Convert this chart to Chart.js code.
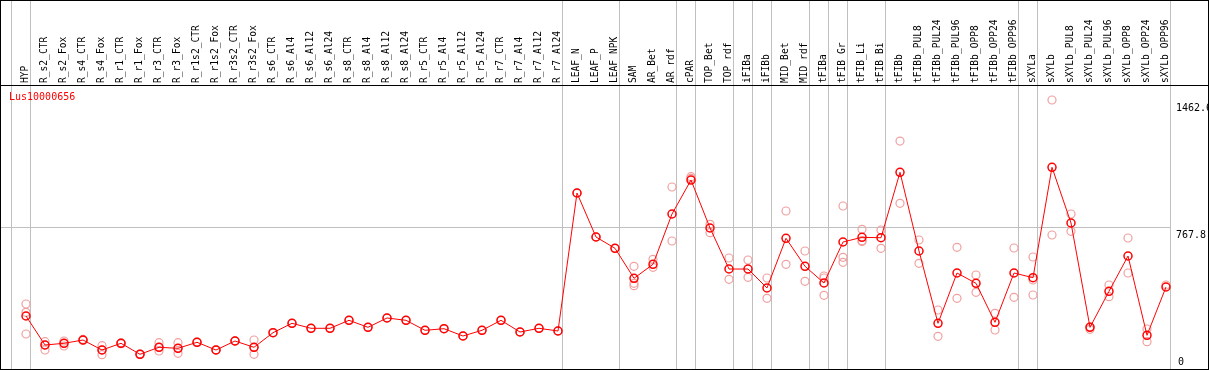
<!DOCTYPE html>
<html>
<head>
<meta charset="utf-8">
<script src="https://cdn.jsdelivr.net/npm/chart.js@4/dist/chart.umd.min.js"></script>
<style>
html,body{margin:0;padding:0;background:#fff;}
#c{display:block;}
</style>
</head>
<body>
<canvas id="c" width="1209" height="370"></canvas>
<script>
const categories = ["HYP","R_s2_CTR","R_s2_Fox","R_s4_CTR","R_s4_Fox","R_r1_CTR","R_r1_Fox","R_r3_CTR","R_r3_Fox","R_r1s2_CTR","R_r1s2_Fox","R_r3s2_CTR","R_r3s2_Fox","R_s6_CTR","R_s6_Al4","R_s6_Al12","R_s6_Al24","R_s8_CTR","R_s8_Al4","R_s8_Al12","R_s8_Al24","R_r5_CTR","R_r5_Al4","R_r5_Al12","R_r5_Al24","R_r7_CTR","R_r7_Al4","R_r7_Al12","R_r7_Al24","LEAF_N","LEAF_P","LEAF_NPK","SAM","AR_Bet","AR_rdf","cPAR","TOP_Bet","TOP_rdf","iFIBa","iFIBb","MID_Bet","MID_rdf","tFIBa","tFIB_Gr","tFIB_Li","tFIB_Bi","tFIBb","tFIBb_PUL8","tFIBb_PUL24","tFIBb_PUL96","tFIBb_OPP8","tFIBb_OPP24","tFIBb_OPP96","sXYLa","sXYLb","sXYLb_PUL8","sXYLb_PUL24","sXYLb_PUL96","sXYLb_OPP8","sXYLb_OPP24","sXYLb_OPP96"];

const meanValues = [283.8,125.5,134.8,152.8,98.2,134.8,74.8,113.0,107.5,140.2,98.2,147.3,113.0,192.6,243.9,216.6,216.6,260.3,222.1,272.9,260.3,205.7,214.5,174.6,205.7,260.3,196.5,216.6,201.9,955.0,714.9,653.2,489.5,565.9,840.4,1025.9,764.0,540.2,540.2,436.6,707.8,555.0,463.8,687.6,713.2,711.0,1068.0,638.5,243.9,518.4,462.2,249.4,518.4,492.8,1095.2,791.3,222.1,418.6,611.2,178.4,442.0];

const replicateValues = [
  [349.3,304.0,185.5],[143.5,98.2,125.5],[147.3,120.1,134.8],[156.0,150.0,152.0],[121.7,72.6,98.2],
  [137.0,133.0,135.0],[75.0,74.0,76.0],[138.1,92.8,113.0],[138.1,80.2,107.5],[140.0,141.0],
  [98.0,99.0],[147.0,148.0],[152.8,74.8,113.0],[192.6],[243.9],
  [216.6],[216.6],[260.3],[222.1],[272.9],
  [260.3],[205.7],[214.5],[174.6],[205.7],
  [260.3],[196.5],[216.6],[201.9],[955.0],
  [714.9],[653.2],[555.0,462.2,449.1],[593.2,549.5],[987.7,693.0],
  [1043.9,1035.2],[784.2,738.3],[600.3,484.0],[589.4,495.0],[491.1,380.4],
  [856.8,565.9],[638.5,473.1],[502.0,491.1,396.7],[884.0,604.1,576.8],[756.9,694.7,690.0],
  [753.1,653.2],[1238.7,898.8],[698.5,571.3],[316.5,173.0],[658.7,380.4],
  [507.5,413.1],[298.5,207.4],[654.8,385.8],[605.7,480.2,398.4],[1462.6,725.8],
  [840.4,746.0],[211.2,225.0],[452.9,389.1],[709.4,518.4],[212.8,143.5],
  [452.9]
];

const groupEnds = [-1,0,28,31,34,35,37,38,39,41,42,43,45,52,53,60];
const yTickValues = [0, 767.8, 1462.6];
const yTickLabels = ["0", "767.8", "1462.6"];
const gridValue = 767.8;
const titleText = "Lus10000656";

const meanPoints = meanValues.map((v, i) => ({x: i, y: v}));
const repPoints = [];
replicateValues.forEach((arr, i) => arr.forEach(v => repPoints.push({x: i, y: v})));

const MONO = "'DejaVu Sans Mono', 'Liberation Mono', monospace";

function zeroPad(s) { s.paddingLeft = 0; s.paddingRight = 0; s.paddingTop = 0; s.paddingBottom = 0; }

const decor = {
  id: 'decor',
  beforeDatasetsDraw(chart) {
    const ctx = chart.ctx, xs = chart.scales.x, ys = chart.scales.y;
    const lastX = Math.floor(xs.getPixelForValue(groupEnds[groupEnds.length - 1]) + 4.5);
    ctx.save();
    ctx.fillStyle = '#c0c0c0';
    groupEnds.forEach(i => {
      const px = Math.floor(xs.getPixelForValue(i) + 4.5);
      ctx.fillRect(px, 0, 1, 370);
    });
    const gy = Math.floor(ys.getPixelForValue(gridValue));
    ctx.fillRect(1, gy, lastX - 1, 1);
    ctx.restore();
  },
  afterDraw(chart) {
    const ctx = chart.ctx, ys = chart.scales.y;
    ctx.save();
    ctx.fillStyle = '#000';
    ctx.fillRect(0, 0, 1209, 1);
    ctx.fillRect(0, 85, 1209, 1);
    ctx.fillRect(0, 369, 1209, 1);
    ctx.fillRect(0, 0, 1, 370);
    ctx.fillRect(1208, 0, 1, 370);
    ctx.fillStyle = '#ff0000';
    ctx.font = "10px " + MONO;
    ctx.textAlign = 'left';
    ctx.textBaseline = 'middle';
    ctx.fillText(titleText, 9, 97);
    ctx.beginPath();
    ctx.rect(0, 86, 1208, 283);
    ctx.clip();
    ctx.fillStyle = '#000';
    yTickValues.forEach((v, k) => {
      const py = ys.getPixelForValue(v);
      if (v === 0) {
        ctx.textBaseline = 'bottom';
        ctx.fillText(yTickLabels[k], 1178, py - 1);
      } else {
        ctx.textBaseline = 'top';
        ctx.fillText(yTickLabels[k], 1176, py + 3);
      }
    });
    ctx.restore();
  }
};

new Chart(document.getElementById('c'), {
  type: 'line',
  data: {
    datasets: [
      {
        label: 'mean',
        data: meanPoints,
        borderColor: '#ff0000',
        borderWidth: 1,
        pointStyle: 'circle',
        pointRadius: 4,
        pointBorderWidth: 1.5,
        pointBorderColor: '#ff0000',
        pointBackgroundColor: 'rgba(0,0,0,0)',
        tension: 0,
        fill: false,
        clip: false
      },
      {
        label: 'replicates',
        data: repPoints,
        showLine: false,
        pointStyle: 'circle',
        pointRadius: 4,
        pointBorderWidth: 1.2,
        pointBorderColor: '#f0a0a0',
        pointBackgroundColor: 'rgba(0,0,0,0)',
        clip: false
      }
    ]
  },
  options: {
    responsive: false,
    animation: false,
    devicePixelRatio: 1,
    layout: { autoPadding: false, padding: { left: 1, right: 1, top: 0, bottom: 2 } },
    plugins: { legend: { display: false }, tooltip: { enabled: false }, title: { display: false } },
    scales: {
      x: {
        type: 'linear',
        position: 'top',
        min: -25/19,
        max: -25/19 + 1207/19,
        afterBuildTicks: (s) => { s.ticks = categories.map((_, i) => ({ value: i })); },
        afterFit: (s) => { s.height = 86; zeroPad(s); },
        grid: { display: false, drawTicks: false },
        border: { display: false },
        ticks: {
          autoSkip: false,
          minRotation: 90,
          maxRotation: 90,
          padding: 3,
          labelOffset: 11.5,
          color: '#000',
          font: { family: MONO, size: 9.6 },
          callback: (v) => categories[v] !== undefined ? categories[v] : ''
        }
      },
      y: {
        type: 'linear',
        position: 'left',
        min: 0,
        max: 1539,
        afterBuildTicks: (s) => { s.ticks = yTickValues.map(v => ({ value: v })); },
        afterFit: (s) => { s.width = 0; zeroPad(s); },
        grid: { display: false, drawTicks: false },
        border: { display: false },
        ticks: { display: false }
      }
    }
  },
  plugins: [decor]
});
</script>
</body>
</html>
